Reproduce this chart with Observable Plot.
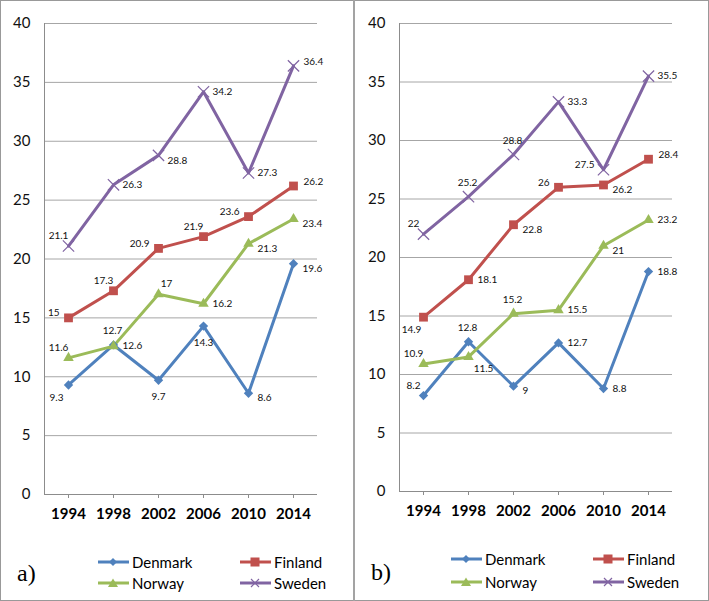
<!DOCTYPE html>
<html><head><meta charset="utf-8">
<script src="https://cdn.jsdelivr.net/npm/d3@7"></script>
<script src="https://cdn.jsdelivr.net/npm/@observablehq/plot@0.6"></script>
<style>
html,body{margin:0;padding:0;background:#fff;}
body{width:709px;height:601px;position:relative;overflow:hidden;font-family:Lato,sans-serif;color:#000;}
#outer{position:absolute;left:0;top:0;width:709px;height:601px;border:1px solid #999;box-sizing:border-box;}
#divider{position:absolute;left:353px;top:0;width:2px;height:601px;background:#a3a3a3;}
.panel{position:absolute;top:0;width:353px;height:600px;}
.panel svg.chart{position:absolute;left:0;top:0;}
.lg{position:absolute;height:18px;display:flex;align-items:center;font-size:15px;line-height:18px;white-space:nowrap;}
.lg svg{margin-right:3px;}
.tag{position:absolute;font-family:"Liberation Serif",serif;font-size:24px;line-height:28px;}
</style>
</head><body>
<div id="outer"></div>
<div id="divider"></div>
<div class="panel" id="pa" style="left:0px"></div>
<div class="panel" id="pb" style="left:355px"></div>
<script>
const years = [1994, 1998, 2002, 2006, 2010, 2014];
const countries = ["Denmark", "Finland", "Norway", "Sweden"];
const yTicks = [0, 5, 10, 15, 20, 25, 30, 35, 40];

// Panel a)
const aDenmark = [9.3, 12.7, 9.7, 14.3, 8.6, 19.6];
const aFinland = [15, 17.3, 20.9, 21.9, 23.6, 26.2];
const aNorway  = [11.6, 12.6, 17, 16.2, 21.3, 23.4];
const aSweden  = [21.1, 26.3, 28.8, 34.2, 27.3, 36.4];
// Panel b)
const bDenmark = [8.2, 12.8, 9, 12.7, 8.8, 18.8];
const bFinland = [14.9, 18.1, 22.8, 26, 26.2, 28.4];
const bNorway  = [10.9, 11.5, 15.2, 15.5, 21, 23.2];
const bSweden  = [22, 25.2, 28.8, 33.3, 27.5, 35.5];

// label placement codes (where each data label sits relative to its point)
const aDenmarkPos = ["bl", "t", "b", "b", "rb", "rb"];
const aFinlandPos = ["l", "tl", "l", "tl", "l", "rt"];
const aNorwayPos  = ["tl", "r", "tr", "r", "rb", "rb"];
const aSwedenPos  = ["tl", "r", "rb", "r", "r", "rt"];
const bDenmarkPos = ["tl", "t", "rb", "r", "r", "r"];
const bFinlandPos = ["bl", "r", "rb", "l", "rb", "rt"];
const bNorwayPos  = ["tl", "br", "t", "r", "rb", "r"];
const bSwedenPos  = ["tl", "t", "t", "r", "l", "r"];

const colors = {Denmark: "#4F81BD", Finland: "#C0504D", Norway: "#9BBB59", Sweden: "#8064A2"};
const symbols = {Denmark: "diamond2", Finland: "square2", Norway: "triangle2", Sweden: "times"};
const sizes = {Denmark: 4.2, Finland: 5.6, Norway: 5, Sweden: 5.2};

const place = {
  r:  {dx: 9,   dy: 0,   textAnchor: "start"},
  rt: {dx: 10,  dy: -4,  textAnchor: "start"},
  rb: {dx: 9,   dy: 5,   textAnchor: "start"},
  br: {dx: 15,  dy: 12,  textAnchor: "middle"},
  l:  {dx: -9,  dy: -5,  textAnchor: "end"},
  t:  {dx: -1,  dy: -14, textAnchor: "middle"},
  tr: {dx: 8,   dy: -11, textAnchor: "middle"},
  b:  {dx: 0,   dy: 17,  textAnchor: "middle"},
  tl: {dx: -10, dy: -10, textAnchor: "middle"},
  bl: {dx: -12, dy: 13,  textAnchor: "middle"}
};

function rowsFor(series, positions) {
  const rows = [];
  countries.forEach((c, i) => {
    series[i].forEach((v, j) => rows.push({country: c, year: years[j], value: v, pos: positions[i][j]}));
  });
  return rows;
}

function chart(rows, marginBottom) {
  const marks = [
    Plot.ruleY(yTicks.filter(d => d > 0), {stroke: "#a6a6a6", strokeWidth: 1}),
    Plot.ruleY([0], {stroke: "#8c8c8c"}),
    Plot.frame({anchor: "left", stroke: "#8c8c8c"}),
    Plot.axisY({ticks: yTicks, tickSize: 0, tickPadding: 14, fontSize: 15, label: null, fill: "#111"}),
    Plot.axisX({tickSize: 4, tickPadding: 10, fontSize: 15, fontWeight: "bold", label: null, stroke: "#8c8c8c", fill: "#000", tickFormat: d => String(d)})
  ];
  for (const c of countries) {
    const d = rows.filter(r => r.country === c);
    marks.push(Plot.line(d, {x: "year", y: "value", stroke: colors[c], strokeWidth: 3}));
  }
  for (const c of countries) {
    const d = rows.filter(r => r.country === c);
    if (c === "Sweden") {
      marks.push(Plot.dot(d, {x: "year", y: "value", symbol: symbols[c], r: sizes[c], stroke: colors[c], strokeWidth: 1.2}));
    } else {
      marks.push(Plot.dot(d, {x: "year", y: "value", symbol: symbols[c], r: sizes[c], fill: colors[c], stroke: "none"}));
    }
  }
  for (const [code, o] of Object.entries(place)) {
    marks.push(Plot.text(rows.filter(r => r.pos === code), {
      x: "year", y: "value", text: d => String(d.value),
      dx: o.dx, dy: o.dy, textAnchor: o.textAnchor, fontSize: 10, fill: "#111"
    }));
  }
  const svg = Plot.plot({
    width: 353, height: 530,
    marginLeft: 44, marginRight: 36, marginTop: 23, marginBottom,
    style: {fontFamily: "Lato, sans-serif", background: "transparent", overflow: "visible"},
    x: {type: "point", domain: years, padding: 0.5},
    y: {domain: [0, 40]},
    marks
  });
  svg.classList.add("chart");
  return svg;
}

function glyph(c) {
  const col = colors[c];
  let m = "";
  if (c === "Denmark") m = `<polygon points="15,3 19,7 15,11 11,7" fill="${col}"/>`;
  if (c === "Finland") m = `<rect x="10.5" y="2.5" width="9" height="9" fill="${col}"/>`;
  if (c === "Norway") m = `<polygon points="15,2.5 20,11 10,11" fill="${col}"/>`;
  if (c === "Sweden") m = `<path d="M11,3L19,11M19,3L11,11" stroke="${col}" stroke-width="1.2"/>`;
  return `<svg width="31" height="14" viewBox="0 0 31 14"><line x1="0" x2="31" y1="7" y2="7" stroke="${col}" stroke-width="3"/>${m}</svg>`;
}

function legend(host, x1, x2, y1, y2) {
  const pos = {Denmark: [x1, y1], Finland: [x2, y1], Norway: [x1, y2], Sweden: [x2, y2]};
  for (const c of countries) {
    const el = document.createElement("div");
    el.className = "lg";
    el.style.left = pos[c][0] + "px";
    el.style.top = (pos[c][1] - 9) + "px";
    el.innerHTML = glyph(c) + `<span>${c}</span>`;
    host.appendChild(el);
  }
}

function tag(host, text, x, y) {
  const el = document.createElement("div");
  el.className = "tag";
  el.textContent = text;
  el.style.left = x + "px";
  el.style.top = (y - 14) + "px";
  host.appendChild(el);
}

const pa = document.getElementById("pa");
pa.appendChild(chart(rowsFor([aDenmark, aFinland, aNorway, aSweden], [aDenmarkPos, aFinlandPos, aNorwayPos, aSwedenPos]), 36));
legend(pa, 98, 240, 562, 583);
tag(pa, "a)", 17, 573);

const pb = document.getElementById("pb");
pb.appendChild(chart(rowsFor([bDenmark, bFinland, bNorway, bSweden], [bDenmarkPos, bFinlandPos, bNorwayPos, bSwedenPos]), 39));
legend(pb, 96, 238, 559, 582);
tag(pb, "b)", 16, 572);
</script>
</body></html>
